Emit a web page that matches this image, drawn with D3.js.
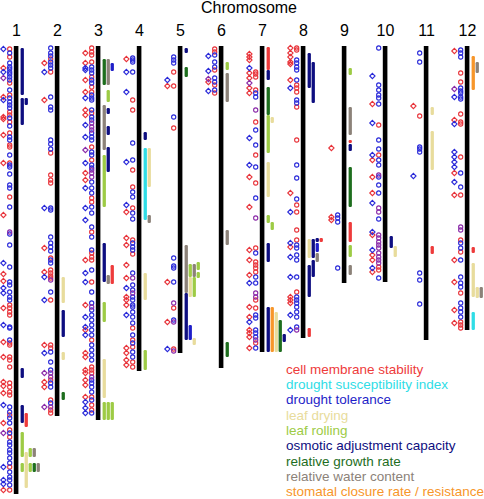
<!DOCTYPE html>
<html><head><meta charset="utf-8">
<script src="https://cdn.jsdelivr.net/npm/d3@7/dist/d3.min.js"></script>
<style>body{margin:0;background:#fff}svg{display:block}</style>
</head><body><svg id="chart" width="484" height="499"></svg>
<script>
// ---------------- DATA ----------------
const chromosomes = ["1","2","3","4","5","6","7","8","9","10","11","12"];
const chromLengths = [448,370,374,325,307,322,306,292,237,236,294,284];

const traitKeys  = ["CMS","DSI","DT","LD","LR","OA","RGR","RWC","SC"];
const traitNames = ["cell membrane stability","drought susceptibility index","drought tolerance","leaf drying","leaf rolling","osmotic adjustment capacity","relative growth rate","relative water content","stomatal closure rate / resistance"];
const traitColors = ["#ee3b3b","#2fdde6","#1e1ec8","#e8dc9c","#9dcb45","#0e0e80","#1e6e1e","#8c8279","#f7962a"];

const markerGroupColors = {red:"#e8333a", blue:"#2929d9", both:"#8a2aa8"};

// [chromosome, shape, group, positions]
const markerGroups = [
 ["1","circle","red",[3,11,37,49,66,69,76,87,99,101,117,151,259,262,266,269,297,299,311,314,321,337,341,346,349,369,384,391,421,444]],
 ["1","circle","blue",[7,17,21,23,26,28,31,34,44,52,56,59,62,72,80,91,94,109,119,121,128,139,142,161,188,199,221,236,239,246,251,254,281,282,294,361,366,372,377,387,396,399,404,407,412,417,426,431,434,439]],
 ["1","circle","both",[186]],
 ["1","diamond","red",[22,51,71,73,89,117,169,228,235,262,296,311,336,340,347,377,444]],
 ["1","diamond","blue",[3,26,54,217,242,247,279,359,421,434,438]],
 ["1","diamond","both",[32,387]],
 ["2","circle","red",[13,26,107,129,134,137,212,224,227,230,232,254,299,302,334,354,364,367]],
 ["2","circle","blue",[2,7,10,16,19,22,51,61,64,94,98,103,162,164,191,197,201,205,214,217,246,306,316,324,337,341,357]],
 ["2","circle","both",[234,327,331,361]],
 ["2","diamond","red",[17,54,202,226,299,336,341]],
 ["2","diamond","blue",[26,162,231,254,307]],
 ["2","diamond","both",[327,361]],
 ["3","circle","red",[2,6,9,16,31,41,46,67,101,114,152,156,186,207,211,214,236,294,321,324,327,351,359,364]],
 ["3","circle","blue",[21,24,27,34,37,49,52,54,64,71,74,87,91,94,106,109,119,122,136,142,147,161,167,181,191,204,224,246,257,264,269,274,279,284,289,299,304,309,314,334,337,341,346,354,367]],
 ["3","circle","both",[77,81,84,124,127,131,261,331]],
 ["3","diamond","red",[7,17,34,46,64,69,127,134,214,259,284,307,311,324,327,334,339,351]],
 ["3","diamond","blue",[22,24,52,79,91,117,142,162,174,227,236,271,281,289,356,362,367]],
 ["3","diamond","both",[104]],
 ["4","circle","red",[54,64,124,141,162,194,208,282,294,301,316,321]],
 ["4","circle","blue",[12,14,16,26,97,114,146,151,167,173,197,201,204,227,239,244,251,254,259,261,266,271,277,289,297,306,311]],
 ["4","circle","both",[232,247]],
 ["4","diamond","red",[13,166,192,199,219,232,251,254,259,302,307,314,319]],
 ["4","diamond","blue",[26,46,116,159,242,269]],
 ["5","circle","red",[26,40,82,262,303]],
 ["5","circle","blue",[11,14,17,71,212,220,222,236,274]],
 ["5","circle","both",[257,276,305]],
 ["5","diamond","red",[40,236,276]],
 ["5","diamond","blue",[34,303]],
 ["6","circle","red",[3,6,24,39,47]],
 ["6","circle","blue",[9,16,21,32,36,44]],
 ["6","diamond","red",[36]],
 ["6","diamond","blue",[10,25,45]],
 ["6","diamond","both",[33]],
 ["7","circle","red",[26,28,31,44,76,109,137,202,216,219,222,226,254,262,297]],
 ["7","circle","blue",[47,51,84,99,121,152,207,231,237,269,272,284,287,291,302]],
 ["7","circle","both",[64,172,247,251,294]],
 ["7","diamond","red",[8,11,14,27,32,42,47,131,161,204,214,229,261,271,284,287,291,302]],
 ["7","diamond","blue",[22,92,119,237,276]],
 ["7","diamond","both",[37]],
 ["8","circle","red",[2,4,39,42,46,61,94,159,166,184,194,246]],
 ["8","circle","blue",[14,17,21,24,34,54,57,119,132,153,199,202,209,214,231,251,254,257,261,266,271,281]],
 ["8","circle","both",[284]],
 ["8","diamond","red",[2,7,11,16,18,34,147,201,251,254,257]],
 ["8","diamond","blue",[42,166,197,211,231,269,284]],
 ["9","circle","blue",[169,172,176,222]],
 ["9","diamond","red",[102,171,174]],
 ["10","circle","red",[79,109,221,224]],
 ["10","circle","blue",[2,39,44,49,52,58,94,103,114,119,131,139,147,173,232]],
 ["10","circle","both",[129,162,166,189,192,196,199,202,207,211,214,217]],
 ["10","diamond","red",[58,114,131,147,189,209,214,226]],
 ["10","diamond","blue",[30,77,109,157,186,204,222]],
 ["11","circle","red",[70]],
 ["11","circle","blue",[7,16,101,103,106,227,234,258]],
 ["11","diamond","red",[60]],
 ["11","diamond","blue",[130]],
 ["12","circle","red",[27,36,68,76,78,111,149,194,206,247,276,279,282]],
 ["12","circle","blue",[4,7,11,42,45,47,51,53,127,141,197,202,214,231,237,241,257,262,266,271]],
 ["12","circle","both",[181,184]],
 ["12","diamond","red",[5,74,127,149,214,236,264,277]],
 ["12","diamond","blue",[51,78,106,111,116,121,136]],
 ["12","diamond","both",[43]]
];

// QTL intervals: [chromosome, start, end, trait, track]
const qtls = [
 ["1",2,49,"OA",0],["1",52,79,"OA",0],["1",52,59,"OA",1],["1",322,332,"OA",0],["1",359,377,"OA",0],["1",367,381,"CMS",1],
 ["1",386,411,"LR",0],["1",406,442,"LD",1],["1",402,411,"LR",2],["1",402,411,"RWC",3],["1",417,426,"LR",0],["1",417,426,"LR",2],["1",417,426,"RGR",3],["1",417,426,"RWC",4],
 ["2",231,257,"LD",0],["2",264,291,"OA",0],["2",306,314,"LD",0],["2",346,354,"RGR",0],
 ["3",13,39,"RGR",0],["3",13,39,"RWC",1],["3",17,25,"DT",2],["3",44,56,"LR",1],["3",59,104,"RWC",0],["3",62,68,"OA",1],["3",80,89,"OA",1],["3",101,126,"OA",1],
 ["3",109,161,"LR",0],["3",197,236,"OA",0],["3",229,238,"RWC",1],["3",219,238,"CMS",2],["3",256,276,"LR",0],["3",313,352,"LD",0],["3",356,374,"LR",0],["3",356,374,"LR",1],["3",356,374,"LR",2],
 ["4",86,94,"OA",0],["4",102,174,"DSI",0],["4",102,141,"LD",1],["4",169,177,"RWC",1],["4",227,254,"LD",0],["4",304,324,"LR",0],
 ["5",2,7,"OA",0],["5",21,31,"RGR",0],["5",199,247,"RWC",0],["5",218,231,"LR",1],["5",218,231,"RWC",2],["5",216,224,"LR",3],["5",226,232,"LR",3],
 ["5",231,251,"LD",1],["5",231,251,"LR",2],["5",247,294,"OA",0],["5",279,294,"DT",1],["5",292,299,"LD",2],
 ["6",16,24,"LR",0],["6",27,56,"RWC",0],["6",184,199,"RWC",0],["6",296,311,"RGR",0],
 ["7",1,24,"CMS",0],["7",24,34,"OA",0],["7",41,69,"RGR",0],["7",69,107,"LR",0],["7",71,77,"LD",1],["7",116,151,"LD",0],["7",169,177,"LR",0],["7",176,184,"LR",1],
 ["7",197,216,"OA",0],["7",261,306,"OA",0],["7",261,306,"SC",1],["7",266,306,"LD",2],["7",274,306,"RGR",3],["7",288,296,"OA",4],
 ["8",7,42,"OA",0],["8",16,57,"OA",1],["8",193,212,"LD",0],["8",193,212,"OA",1],["8",192,196,"OA",2],["8",192,196,"CMS",3],["8",197,206,"DT",2],["8",207,216,"RWC",2],
 ["8",214,231,"OA",1],["8",219,251,"OA",0],["8",282,291,"CMS",0],
 ["9",22,29,"LR",0],["9",61,89,"RWC",0],["9",94,97,"CMS",0],["9",98,105,"OA",0],["9",121,161,"RGR",0],["9",176,196,"CMS",0],["9",199,211,"LR",0],["9",219,229,"RWC",0],
 ["10",190,202,"OA",0],["10",200,211,"LD",1],
 ["11",61,69,"LD",0],["11",85,124,"LD",0],["11",200,208,"CMS",0],
 ["12",10,44,"SC",0],["12",16,27,"RWC",1],["12",201,207,"CMS",0],["12",217,251,"LD",0],["12",241,252,"LD",1],["12",241,252,"RWC",2],["12",266,284,"DSI",0]
];

// ---------------- DRAW ----------------
const svg = d3.select("#chart");
const font = "'Liberation Sans', Arial, Helvetica, sans-serif";
const x = d3.scalePoint().domain(chromosomes).range([16, 467]);
const y = d3.scaleLinear().domain([0, 450]).range([46, 496]);
const traitColor = d3.scaleOrdinal().domain(traitKeys).range(traitColors);

svg.append("text").attr("x", 249).attr("y", 13).attr("text-anchor","middle")
  .attr("font-family", font).attr("font-size", 16).attr("fill","#000").text("Chromosome");

svg.append("g").selectAll("text").data(chromosomes).join("text")
  .attr("x", d => x(d) + 0.5).attr("y", 36).attr("text-anchor","middle")
  .attr("font-family", font).attr("font-size", 16).attr("fill","#000").text(d => d);

const chromData = chromosomes.map((c,i) => ({c, len: chromLengths[i]}));
svg.append("g").selectAll("rect").data(chromData).join("rect")
  .attr("x", d => x(d.c) - 2.2).attr("width", 4.6)
  .attr("y", y(0)).attr("height", d => y(d.len) - y(0))
  .attr("fill","#000");

const laneStep = 4, laneW = 3.3, laneStart = 4.6;
svg.append("g").selectAll("rect").data(qtls).join("rect")
  .attr("x", d => x(d[0]) + laneStart + d[4]*laneStep)
  .attr("width", laneW)
  .attr("y", d => y(d[1])).attr("height", d => y(d[2]) - y(d[1]))
  .attr("rx", 1.2)
  .attr("fill", d => traitColor(d[3]));

const markers = [];
markerGroups.forEach(([c, shape, grp, pos]) => pos.forEach(p => markers.push({c, shape, grp, p})));
const gm = svg.append("g").attr("fill","none").attr("stroke-width",1.1);
gm.selectAll("circle").data(markers.filter(m => m.shape === "circle")).join("circle")
  .attr("cx", d => x(d.c) - 6.3).attr("cy", d => y(d.p)).attr("r", 2.1)
  .attr("stroke", d => markerGroupColors[d.grp]);
const diamond = d3.symbol().type(d3.symbolDiamond2).size(18);
gm.selectAll("path").data(markers.filter(m => m.shape === "diamond")).join("path")
  .attr("transform", d => `translate(${x(d.c) - 12.6},${y(d.p)})`)
  .attr("d", diamond)
  .attr("stroke", d => markerGroupColors[d.grp]);

const legend = svg.append("g").attr("font-family", font).attr("font-size", 13.5);
legend.selectAll("text").data(traitKeys).join("text")
  .attr("x", 286).attr("y", (d,i) => 373.5 + i*15.35)
  .attr("fill", d => traitColor(d))
  .text((d,i) => traitNames[i]);
</script></body></html>
